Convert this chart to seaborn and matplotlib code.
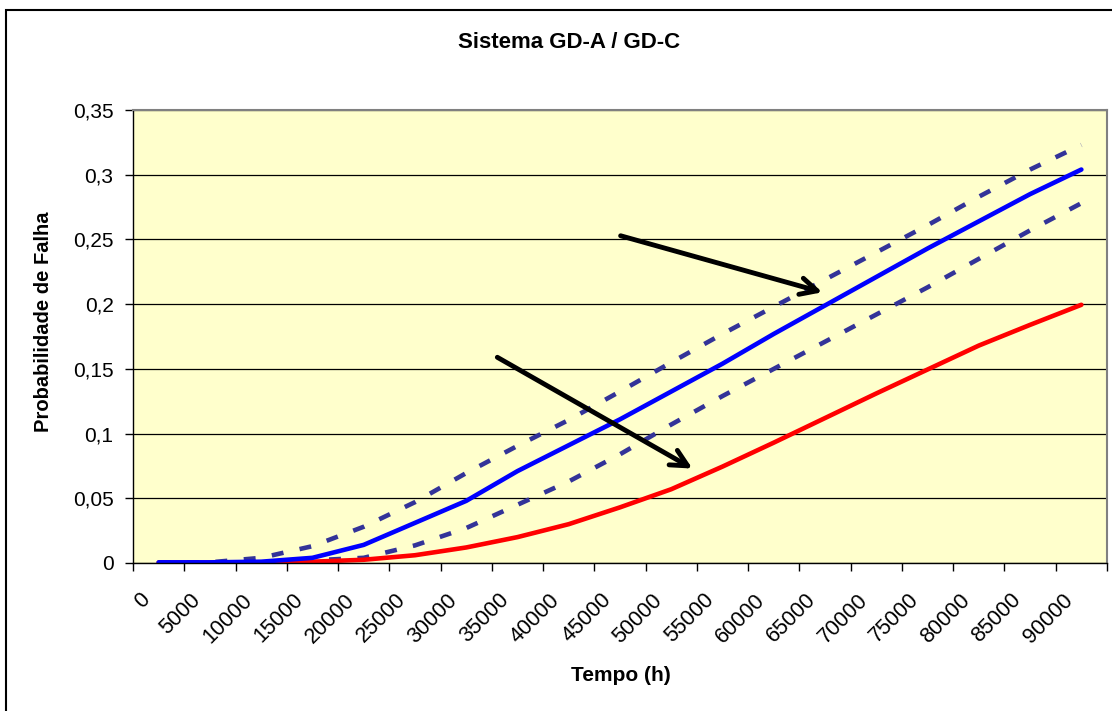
import matplotlib
matplotlib.use("Agg")
import matplotlib.pyplot as plt
import pandas as pd
import seaborn as sns
from matplotlib.patches import Rectangle
from matplotlib.ticker import FixedLocator, FuncFormatter
from matplotlib.transforms import ScaledTranslation


# Sistema GD-A / GD-C - probabilidade de falha x tempo
tempo = [0, 5000, 10000, 15000, 20000, 25000, 30000, 35000, 40000, 45000,
         50000, 55000, 60000, 65000, 70000, 75000, 80000, 85000, 90000]

prob_gd_a = [0.0005, 0.0005, 0.001, 0.004, 0.014, 0.031, 0.048, 0.071, 0.091, 0.111,
             0.1325, 0.154, 0.177, 0.199, 0.221, 0.243, 0.264, 0.285, 0.304]
limite_sup = [0.0005, 0.0005, 0.004, 0.013, 0.028, 0.047, 0.0695, 0.0905, 0.1105, 0.1325,
              0.155, 0.177, 0.198, 0.219, 0.240, 0.261, 0.283, 0.304, 0.323]
limite_inf = [0.0003, 0.0003, 0.0003, 0.002, 0.004, 0.0136, 0.027, 0.045, 0.063, 0.084,
              0.107, 0.129, 0.150, 0.171, 0.192, 0.213, 0.235, 0.257, 0.278]
prob_gd_c = [0.0003, 0.0003, 0.0005, 0.001, 0.0025, 0.006, 0.012, 0.020, 0.030, 0.043,
             0.057, 0.0745, 0.093, 0.112, 0.131, 0.1495, 0.168, 0.184, 0.1995]

series = {"GD-A": prob_gd_a, "Sup": limite_sup, "Inf": limite_inf, "GD-C": prob_gd_c}
df = pd.DataFrame({
    "tempo": tempo * len(series),
    "prob": [v for vals in series.values() for v in vals],
    "serie": [k for k, vals in series.items() for _ in vals],
})

sns.set_theme(style="white")
plt.rcParams["font.family"] = ["Liberation Sans", "DejaVu Sans"]
plt.rcParams["text.color"] = "black"
plt.rcParams["axes.labelcolor"] = "black"
plt.rcParams["xtick.color"] = "black"
plt.rcParams["ytick.color"] = "black"

fig = plt.figure(figsize=(11.12, 7.11), dpi=100)
ax = fig.add_axes([133 / 1112, 1 - 563 / 711, 974 / 1112, 453 / 711])
ax.set_facecolor("#FFFFCC")

sns.lineplot(data=df, x="tempo", y="prob", hue="serie", style="serie",
             palette={"GD-A": "#0000FF", "Sup": "#333399", "Inf": "#333399", "GD-C": "#FF0000"},
             dashes={"GD-A": "", "Sup": (2.6, 3.6), "Inf": (2.6, 3.6), "GD-C": ""},
             hue_order=["Sup", "Inf", "GD-C", "GD-A"],
             linewidth=3.3, errorbar=None, legend=False, ax=ax)

# arrows
ax.annotate("", xy=(65000, 0.2086), xytext=(44800, 0.2534),
            arrowprops=dict(arrowstyle="->", color="black", lw=3.5, mutation_scale=30))
ax.annotate("", xy=(52300, 0.0719), xytext=(32800, 0.160),
            arrowprops=dict(arrowstyle="->", color="black", lw=3.5, mutation_scale=30))

ax.set_xlim(-2500, 92500)
ax.set_ylim(0, 0.35)
ax.set_yticks([0, 0.05, 0.1, 0.15, 0.2, 0.25, 0.3, 0.35])
ax.yaxis.set_major_formatter(FuncFormatter(
    lambda v, p: ("%.2f" % v).rstrip("0").rstrip(".").replace(".", ",")))
ax.set_xticks(tempo)
ax.set_xticklabels([str(t) for t in tempo])
ax.xaxis.set_minor_locator(FixedLocator([t - 2500 for t in tempo] + [92500]))

ax.yaxis.grid(True, color="black", lw=0.9)
ax.set_axisbelow(True)

ax.tick_params(axis="y", which="major", direction="out", length=6, width=1,
               color="black", labelsize=15, pad=8, left=True)
ax.tick_params(axis="x", which="major", length=0, pad=0, labelsize=15.5,
               labelrotation=45, bottom=True)
ax.tick_params(axis="x", which="minor", direction="out", length=6, width=1,
               color="black", bottom=True)
for lab in ax.get_xticklabels():
    lab.set_ha("right")
    lab.set_va("center")
    lab.set_rotation_mode("anchor")
    lab.set_transform(lab.get_transform() + ScaledTranslation(-0.12, -0.34, fig.dpi_scale_trans))

for side in ["left", "bottom"]:
    ax.spines[side].set_color("black")
    ax.spines[side].set_linewidth(1)
for side in ["top", "right"]:
    ax.spines[side].set_color("#808080")
    ax.spines[side].set_linewidth(1.5)

ax.set_xlabel("Tempo (h)", fontsize=15, fontweight="bold")
ax.xaxis.set_label_coords(0.501, -0.249)
ax.xaxis.label.set_va("center")
ax.set_ylabel("Probabilidade de Falha", fontsize=14.5, fontweight="bold")
ax.yaxis.set_label_coords(-0.0924, 0.532)
ax.yaxis.label.set_va("center")

fig.text(569 / 1112, 1 - 43 / 711, "Sistema GD-A / GD-C", ha="center", va="center",
         fontsize=16, fontweight="bold")

# outer chart border
fig.patches.append(Rectangle((6 / 1112, -0.1), 1.2, 1.1 - 10 / 711, transform=fig.transFigure,
                             fill=False, edgecolor="black", lw=1.5))

fig.savefig("out.png", dpi=100)
